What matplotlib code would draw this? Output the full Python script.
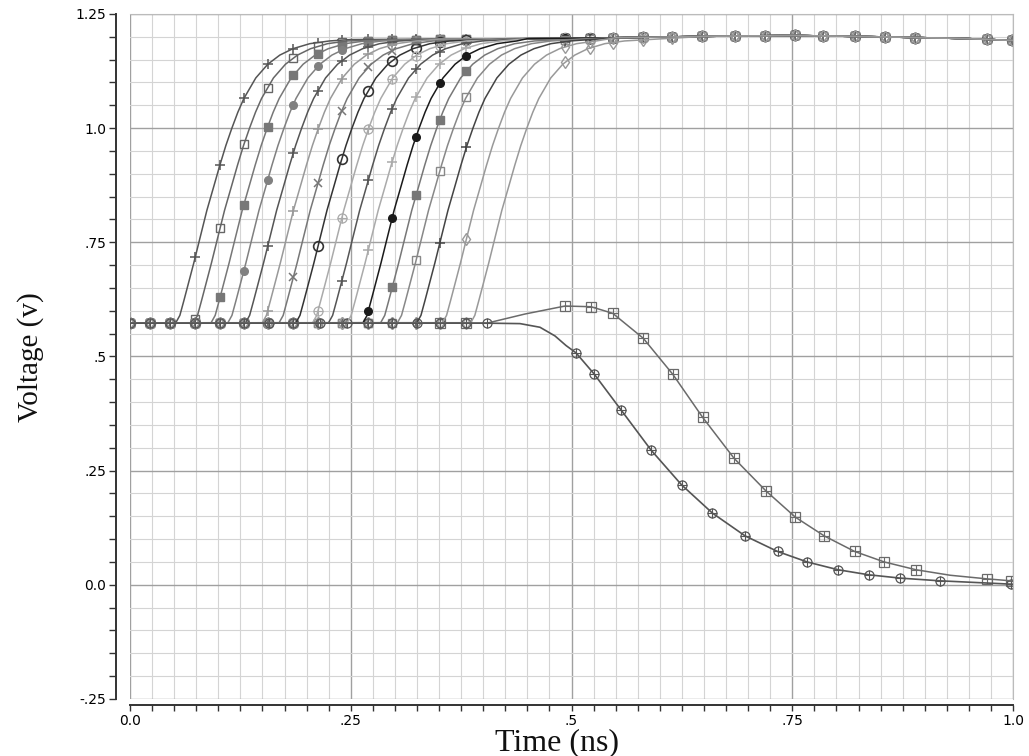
import numpy as np
import matplotlib.pyplot as plt

# ---- data (time in ns, voltage in V) ----
base_v = 0.573

# shape of one rising edge, time measured from its 0.88 V crossing
edge_dt = [-0.0441, -0.0395, -0.0350, -0.0305, -0.0237, -0.0169, -0.0089, -0.0010,
           0.0058, 0.0126, 0.0194, 0.0262, 0.0330, 0.0465, 0.0601, 0.0737,
           0.0885, 0.1077, 0.1302]
edge_v = [0.574, 0.590, 0.622, 0.655, 0.705, 0.758, 0.820, 0.873,
          0.919, 0.962, 1.000, 1.035, 1.065, 1.110, 1.140, 1.160,
          1.174, 1.185, 1.191]

# common plateau all rising curves settle on
top_t = [0.25, 0.35, 0.45, 0.55, 0.65, 0.75, 0.85, 0.95, 1.0]
top_v = [1.194, 1.195, 1.196, 1.198, 1.201, 1.203, 1.200, 1.196, 1.192]

# 0.88 V crossing time of each rising curve
rise_t50 = [0.096, 0.116, 0.136, 0.155, 0.175, 0.194, 0.213, 0.232, 0.251,
            0.269, 0.290, 0.308, 0.328, 0.347, 0.369, 0.398, 0.430]
rise_colors = ['#555555', '#666666', '#777777', '#808080', '#555555', '#999999',
               '#777777', '#333333', '#aaaaaa', '#555555', '#aaaaaa', '#1a1a1a',
               '#777777', '#888888', '#444444', '#999999', '#999999']
rise_styles = ['plus', 'sq_open', 'sq_fill', 'dot', 'plus', 'plus', 'x', 'circ',
               'circplus', 'plus', 'plus', 'dot', 'sq_fill', 'sq_open', 'plus',
               'diam', 'diam']

# simulator points where markers are drawn on the rising curves
rise_mark_t = [0.0, 0.023, 0.045, 0.074, 0.102, 0.129, 0.156, 0.185, 0.213, 0.240,
               0.270, 0.297, 0.324, 0.351, 0.381, 0.493, 0.521, 0.547, 0.581,
               0.614, 0.648, 0.685, 0.719, 0.753, 0.785, 0.821, 0.855, 0.889,
               0.971, 0.999]

# falling output, circle-plus markers
fall1_t = [0.0, 0.4043, 0.4417, 0.4643, 0.4813, 0.4938, 0.5051, 0.5255, 0.5561,
           0.5901, 0.6246, 0.6596, 0.6967, 0.7334, 0.7670, 0.8019, 0.8365,
           0.8723, 0.9170, 0.9976, 1.0]
fall1_v = [0.573, 0.573, 0.572, 0.564, 0.545, 0.524, 0.508, 0.462, 0.383,
           0.295, 0.219, 0.157, 0.107, 0.073, 0.050, 0.033, 0.022,
           0.0147, 0.0088, 0.0015, 0.0012]
fall1_mark = [0.0, 0.023, 0.045, 0.074, 0.102, 0.129, 0.157, 0.185, 0.215, 0.246,
              0.270, 0.297, 0.325, 0.351, 0.380, 0.4043, 0.5051, 0.5255, 0.5561,
              0.5901, 0.6246, 0.6596, 0.6967, 0.7334, 0.7670, 0.8019, 0.8365,
              0.8723, 0.9170, 0.9976]

# falling output with overshoot, square-plus markers
fall2_t = [0.0, 0.4043, 0.4473, 0.4926, 0.5221, 0.5467, 0.5812, 0.6147, 0.6484,
           0.6841, 0.7200, 0.7536, 0.7863, 0.8207, 0.8543, 0.8901, 0.9287,
           0.9708, 0.9976, 1.0]
fall2_v = [0.573, 0.573, 0.593, 0.6105, 0.609, 0.5945, 0.540, 0.461, 0.367,
           0.277, 0.206, 0.148, 0.107, 0.073, 0.050, 0.033, 0.021,
           0.013, 0.0088, 0.0085]
fall2_mark = [0.351, 0.380, 0.4926, 0.5221, 0.5467, 0.5812, 0.6147, 0.6484,
              0.6841, 0.7200, 0.7536, 0.7863, 0.8207, 0.8543, 0.8901,
              0.9708, 0.9976]

x_ticks = [0.0, 0.25, 0.5, 0.75, 1.0]
x_labels = ['0.0', '.25', '.5', '.75', '1.0']
y_ticks = [-0.25, 0.0, 0.25, 0.5, 0.75, 1.0, 1.25]
y_labels = ['-.25', '0.0', '.25', '.5', '.75', '1.0', '1.25']


def draw_markers(ax, t, v, style, color):
    ms = 5.5
    if style == 'plus':
        ax.plot(t, v, ls='none', marker='+', ms=7, mew=1.1, color=color)
    elif style == 'x':
        ax.plot(t, v, ls='none', marker='x', ms=6, mew=1.1, color=color)
    elif style == 'sq_open':
        ax.plot(t, v, ls='none', marker='s', ms=ms, mfc='white', mec=color, mew=1.0)
    elif style == 'sq_fill':
        ax.plot(t, v, ls='none', marker='s', ms=ms, mfc=color, mec=color)
    elif style == 'dot':
        ax.plot(t, v, ls='none', marker='o', ms=ms, mfc=color, mec=color)
    elif style == 'circ':
        ax.plot(t, v, ls='none', marker='o', ms=7, mfc='none', mec=color, mew=1.2)
    elif style == 'circplus':
        ax.plot(t, v, ls='none', marker='o', ms=6.5, mfc='none', mec=color, mew=0.9)
        ax.plot(t, v, ls='none', marker='+', ms=6.5, mew=0.8, color=color)
    elif style == 'sqplus':
        ax.plot(t, v, ls='none', marker='s', ms=6.5, mfc='none', mec=color, mew=0.9)
        ax.plot(t, v, ls='none', marker='+', ms=6.5, mew=0.8, color=color)
    elif style == 'diam':
        ax.plot(t, v, ls='none', marker='d', ms=6, mfc='none', mec=color, mew=1.0)


fig = plt.figure(figsize=(10.29, 7.56), dpi=100)
ax = fig.add_axes([0.1263, 0.0754, 0.8582, 0.9061])

edge_dt = np.array(edge_dt)
edge_v = np.array(edge_v)
top_t = np.array(top_t)
top_v = np.array(top_v)

# rising curves
for t50, col, sty in zip(rise_t50, rise_colors, rise_styles):
    et = t50 + edge_dt
    keep = top_t > et[-1] + 0.01
    t = np.concatenate([[0.0], et, top_t[keep]])
    v = np.concatenate([[base_v], edge_v, top_v[keep]])
    ax.plot(t, v, color=col, lw=1.1, zorder=3)
    mv = np.interp(rise_mark_t, t, v)
    draw_markers(ax, rise_mark_t, mv, sty, col)

# falling curves
ax.plot(fall2_t, fall2_v, color='#6a6a6a', lw=1.1, zorder=3)
draw_markers(ax, fall2_mark, np.interp(fall2_mark, fall2_t, fall2_v), 'sqplus', '#6a6a6a')
ax.plot(fall1_t, fall1_v, color='#555555', lw=1.2, zorder=3)
draw_markers(ax, fall1_mark, np.interp(fall1_mark, fall1_t, fall1_v), 'circplus', '#555555')

ax.set_xlim(0, 1.0)
ax.set_ylim(-0.25, 1.25)

ax.set_xticks(x_ticks)
ax.set_xticklabels(x_labels, fontweight='bold', fontsize=10, color='#222222')
ax.set_yticks(y_ticks)
ax.set_yticklabels(y_labels, fontweight='bold', fontsize=10, color='#222222')
ax.set_xticks(np.arange(0, 1.0001, 0.025), minor=True)
ax.set_yticks(np.arange(-0.25, 1.2501, 0.05), minor=True)

ax.set_axisbelow(True)
ax.grid(which='minor', color='#d4d4d4', lw=0.8)
ax.grid(which='major', color='#a0a0a0', lw=1.0)

ax.tick_params(which='both', direction='out', color='#333333', width=1.0)
ax.tick_params(axis='y', which='both', length=5, pad=2)
ax.tick_params(axis='x', which='both', length=4, pad=2)

ax.spines['left'].set_position(('outward', 10))
ax.spines['bottom'].set_position(('outward', 4.5))
ax.spines['left'].set_color('#333333')
ax.spines['bottom'].set_color('#333333')
ax.spines['left'].set_linewidth(1.4)
ax.spines['bottom'].set_linewidth(1.4)
ax.spines['top'].set_color('#bbbbbb')
ax.spines['right'].set_color('#bbbbbb')

fig.text(0.5413, 0.017, 'Time (ns)', fontfamily='Liberation Serif', fontsize=23,
         ha='center', va='center', color='#111111')
fig.text(0.0292, 0.5278, 'Voltage (v)', fontfamily='Liberation Serif', fontsize=21,
         rotation=90, ha='center', va='center', color='#111111')

fig.savefig('out.png', dpi=100)
